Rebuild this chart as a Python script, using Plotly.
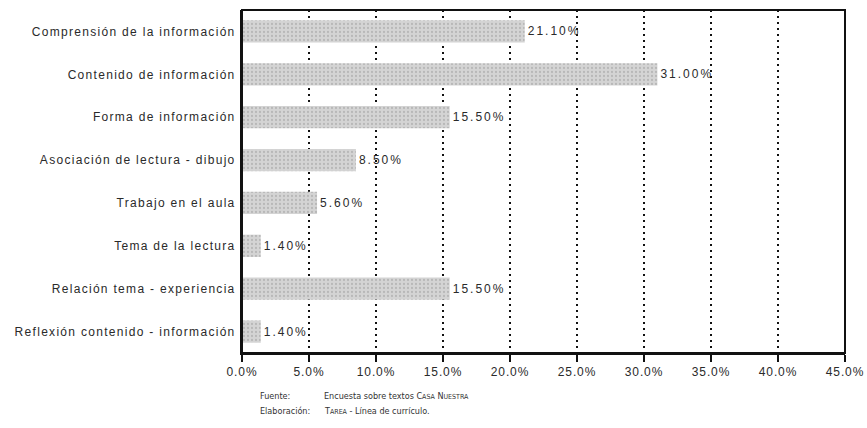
import plotly.graph_objects as go

categories = [
    "Comprensión de la información",
    "Contenido de información",
    "Forma de información",
    "Asociación de lectura - dibujo",
    "Trabajo en el aula",
    "Tema de la lectura",
    "Relación tema - experiencia",
    "Reflexión contenido - información",
]
values = [21.10, 31.00, 15.50, 8.50, 5.60, 1.40, 15.50, 1.40]
tick_values = [0, 5, 10, 15, 20, 25, 30, 35, 40, 45]
tick_labels = [f"{t:.1f}%" for t in tick_values]

W, H = 867, 428
M_L, M_R, M_T, M_B = 242, 22, 10, 75

font_family = "Liberation Sans, Arial, sans-serif"
note_family = "Liberation Sans Narrow, Arial Narrow, DejaVu Sans Condensed, sans-serif"
ink = "#2a2a2a"


def spaced(s, px):
    """Wrap text in a span that widens the letter spacing."""
    return f"<span style='letter-spacing:{px}px'>{s}</span>"


fig = go.Figure(
    go.Bar(
        x=values,
        y=categories,
        orientation="h",
        marker=dict(
            color="#d4d4d4",
            line=dict(width=0),
            pattern=dict(shape=".", fgcolor="#9c9c9c", bgcolor="#d4d4d4",
                         size=4, solidity=0.25),
        ),
        text=[spaced(f"{v:.2f}%", 2) for v in values],
        textposition="outside",
        textfont=dict(size=12, color=ink, family=font_family),
        cliponaxis=False,
        width=0.52,
    )
)

fig.update_layout(
    width=W,
    height=H,
    margin=dict(l=M_L, r=M_R, t=M_T, b=M_B, autoexpand=False),
    plot_bgcolor="white",
    paper_bgcolor="white",
    showlegend=False,
    font=dict(family=font_family, size=12, color=ink),
    xaxis=dict(
        range=[0, 45],
        automargin=False,
        tickvals=tick_values,
        ticktext=[spaced(t, 0.9) for t in tick_labels],
        ticks="outside",
        ticklen=7,
        tickwidth=1.5,
        tickcolor="#111",
        showline=True,
        linecolor="#111",
        linewidth=2,
        showgrid=True,
        gridcolor="#111",
        gridwidth=1.5,
        griddash="2px,4px",
        zeroline=False,
        tickfont=dict(size=12, color=ink),
    ),
    yaxis=dict(
        automargin=False,
        categoryorder="array",
        categoryarray=categories[::-1],
        tickvals=categories,
        ticktext=[spaced(c, 1.3) for c in categories],
        showline=True,
        linecolor="#111",
        linewidth=2,
        ticks="",
        ticklabelstandoff=2,
        tickfont=dict(size=12, color=ink),
    ),
    bargap=0.48,
)

# frame around the plotting area
fig.add_shape(
    type="rect", xref="paper", yref="paper", x0=0, x1=1, y0=0, y1=1,
    line=dict(color="#111", width=2), fillcolor="rgba(0,0,0,0)", layer="above",
)

# source notes below the chart, positioned in pixels
small = "font-size:7px"
notes = [
    ("Fuente:", 258, 396),
    (f"Encuesta sobre textos C<span style='{small}'>ASA</span> N<span style='{small}'>UESTRA</span>", 322, 396),
    ("Elaboración:", 258, 411),
    (f"T<span style='{small}'>AREA</span> - Línea de currículo.", 322, 411),
]
plot_w = W - M_L - M_R
plot_h = H - M_T - M_B
for txt, px, py in notes:
    fig.add_annotation(
        x=(px - M_L) / plot_w, y=(H - M_B - py) / plot_h,
        xref="paper", yref="paper",
        xanchor="left", yanchor="middle", showarrow=False, text=txt,
        font=dict(size=9, color="#333", family=note_family),
    )

fig.write_html("out.html")
